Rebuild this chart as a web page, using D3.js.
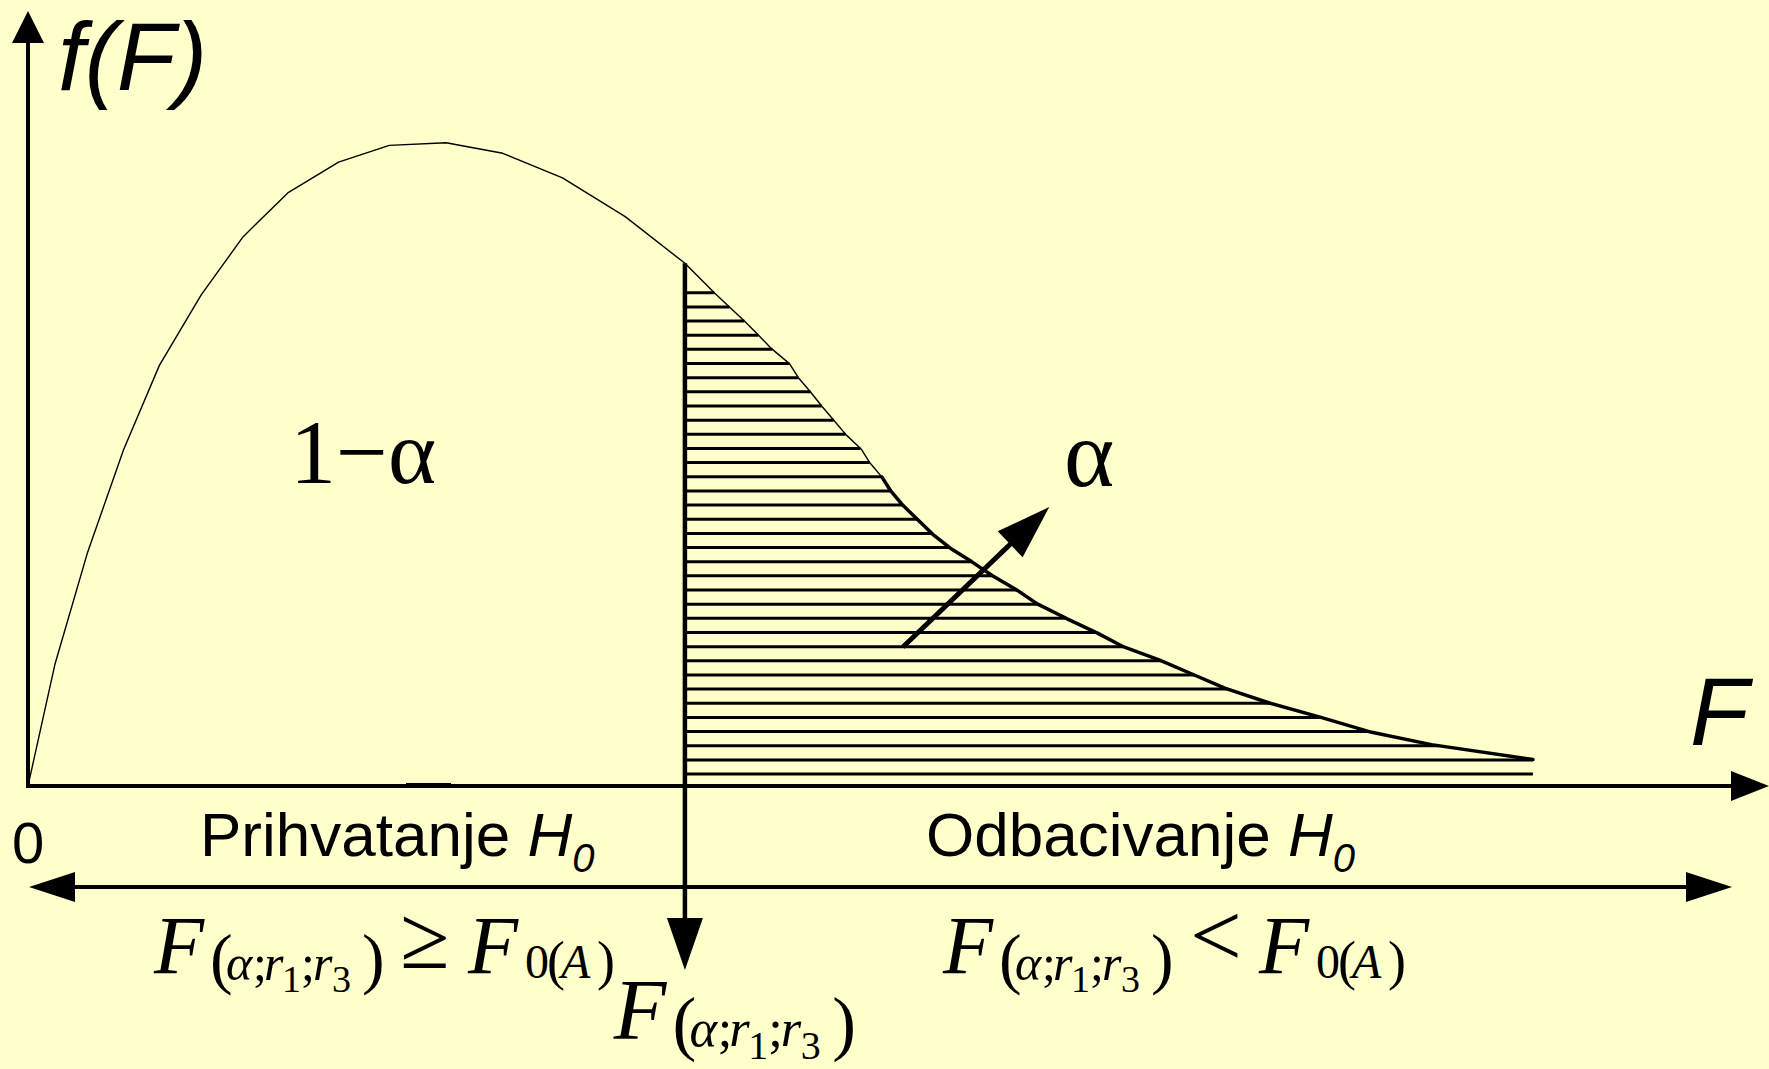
<!DOCTYPE html>
<html>
<head>
<meta charset="utf-8">
<script src="https://cdn.jsdelivr.net/npm/d3@7"></script>
<style>
  html, body { margin: 0; padding: 0; background: #FFFFCC; }
  svg { display: block; }
  .sans { font-family: "Liberation Sans", Arial, sans-serif; }
  .serif { font-family: "Liberation Serif", "Times New Roman", serif; }
</style>
</head>
<body>
<script>
// F-distribution density curve (F value, density)
const fValues = [0, 0.09, 0.20, 0.32, 0.44, 0.58, 0.72, 0.87, 1.04, 1.21,
  1.40, 1.59, 1.79, 2.00, 2.20, 2.30, 2.35, 2.40, 2.45, 2.49,
  2.55, 2.58, 2.62, 2.66, 2.70, 2.74, 2.79, 2.82, 2.86, 2.89,
  2.93, 3.03, 3.09, 3.16, 3.23, 3.31, 3.38, 3.48, 3.58, 3.67,
  3.79, 3.90, 4.01, 4.16, 4.33, 4.50, 4.70, 5.04];
const density = [0, 0.138, 0.266, 0.382, 0.478, 0.558, 0.624, 0.674, 0.709, 0.728,
  0.731, 0.719, 0.691, 0.647, 0.594, 0.560, 0.544, 0.528, 0.511, 0.497,
  0.480, 0.464, 0.448, 0.431, 0.415, 0.399, 0.383, 0.367, 0.351, 0.335,
  0.319, 0.286, 0.270, 0.255, 0.239, 0.223, 0.207, 0.190, 0.174, 0.158,
  0.143, 0.127, 0.111, 0.094, 0.078, 0.061, 0.047, 0.030];

// critical value F(α; r1; r3) and the value where the tail outline thickens
const criticalF = 2.20;
const thickFrom = 2.86;

// arrow pointing at the rejection area α (data coordinates)
const alphaArrowFrom = [2.93, 0.158];
const alphaArrowTo = [3.42, 0.317];

// texts
const yTitle = "f(F)";
const xTitle = "F";
const originLabel = "0";
const acceptLabel = "Prihvatanje ";
const rejectLabel = "Odbacivanje ";
const areaAccept = "1\u2212\u03B1";
const areaReject = "\u03B1";

const W = 1769, H = 1069;
const svg = d3.select("body").append("svg").attr("width", W).attr("height", H);
svg.append("rect").attr("width", W).attr("height", H).attr("fill", "#FFFFCC");

const x = d3.scaleLinear().domain([0, 5]).range([28, 1521]);
const y = d3.scaleLinear().domain([0, 0.8]).range([786, 82]);

const pts = fValues.map((f, i) => [f, density[i]]);
const line = d3.line().x(d => x(d[0])).y(d => y(d[1])).curve(d3.curveLinear);

// filled arrowhead with tip at (tx,ty) pointing along unit vector (ux,uy)
function head(tx, ty, ux, uy, len, hw) {
  const bx = tx - ux * len, by = ty - uy * len;
  const px = -uy, py = ux;
  return `M${tx},${ty}L${bx + px * hw},${by + py * hw}L${bx - px * hw},${by - py * hw}Z`;
}

// ---- hatching of the rejection region ----
const tail = pts.filter(p => p[0] >= criticalF);
function tailF(level) {
  for (let i = 0; i < tail.length - 1; i++) {
    const a = tail[i], b = tail[i + 1];
    if (a[1] >= level && b[1] <= level) {
      return a[0] + (b[0] - a[0]) * (a[1] - level) / (a[1] - b[1]);
    }
  }
  return tail[tail.length - 1][0];
}
const hatchCount = 35, hatchBase = 0.0136, hatchStep = 0.016086;
const levels = d3.range(hatchCount).map(i => hatchBase + i * hatchStep);
svg.append("g").selectAll("line").data(levels).join("line")
  .attr("x1", x(criticalF)).attr("x2", d => x(tailF(d)))
  .attr("y1", d => y(d)).attr("y2", d => y(d))
  .attr("stroke", "#000").attr("stroke-width", 3);

// ---- density curve ----
svg.append("path").attr("d", line(pts.filter(p => p[0] <= thickFrom)))
  .attr("fill", "none").attr("stroke", "#000").attr("stroke-width", 1.4)
  .attr("stroke-linejoin", "round");
svg.append("path").attr("d", line(pts.filter(p => p[0] >= thickFrom)))
  .attr("fill", "none").attr("stroke", "#000").attr("stroke-width", 3.5)
  .attr("stroke-linejoin", "round").attr("stroke-linecap", "round");

// ---- axes ----
const x0 = x(0), y0 = y(0);
svg.append("line").attr("x1", x0).attr("x2", x0).attr("y1", y0 + 2).attr("y2", 40)
  .attr("stroke", "#000").attr("stroke-width", 4);
svg.append("path").attr("d", head(x0, 11, 0, -1, 32, 16)).attr("fill", "#000");
svg.append("line").attr("x1", x0 - 2).attr("x2", W - 34).attr("y1", y0).attr("y2", y0)
  .attr("stroke", "#000").attr("stroke-width", 4);
svg.append("line").attr("x1", 406).attr("x2", 451).attr("y1", y0 - 1.5).attr("y2", y0 - 1.5)
  .attr("stroke", "#000").attr("stroke-width", 3);
svg.append("path").attr("d", head(W, y0, 1, 0, 38, 15)).attr("fill", "#000");

// ---- critical value line with downward arrow ----
const xc = x(criticalF);
svg.append("line").attr("x1", xc).attr("x2", xc)
  .attr("y1", y(density[fValues.indexOf(criticalF)])).attr("y2", 930)
  .attr("stroke", "#000").attr("stroke-width", 4.5);
svg.append("path").attr("d", head(xc, 970, 0, 1, 52, 18)).attr("fill", "#000");

// ---- double arrow under the axis ----
const yd = 887;
svg.append("line").attr("x1", 60).attr("x2", 1700).attr("y1", yd).attr("y2", yd)
  .attr("stroke", "#000").attr("stroke-width", 4);
svg.append("path").attr("d", head(29, yd, -1, 0, 46, 15)).attr("fill", "#000");
svg.append("path").attr("d", head(1732, yd, 1, 0, 46, 15)).attr("fill", "#000");

// ---- α arrow ----
{
  const ax = x(alphaArrowFrom[0]), ay = y(alphaArrowFrom[1]);
  const bx = x(alphaArrowTo[0]), by = y(alphaArrowTo[1]);
  const L = Math.hypot(bx - ax, by - ay), ux = (bx - ax) / L, uy = (by - ay) / L;
  svg.append("line").attr("x1", ax).attr("y1", ay)
    .attr("x2", bx - ux * 45).attr("y2", by - uy * 45)
    .attr("stroke", "#000").attr("stroke-width", 5);
  svg.append("path").attr("d", head(bx, by, ux, uy, 54, 18)).attr("fill", "#000");
}

// ---- labels ----
svg.append("text").attr("class", "sans").attr("x", 58).attr("y", 90)
  .attr("font-size", 96).attr("font-style", "italic").text(yTitle);
svg.append("text").attr("class", "sans").attr("x", 1690).attr("y", 745)
  .attr("font-size", 96).attr("font-style", "italic").text(xTitle);
svg.append("text").attr("class", "sans").attr("x", 12).attr("y", 863)
  .attr("font-size", 58).text(originLabel);

function hypLabel(tx, text) {
  const t = svg.append("text").attr("class", "sans").attr("x", tx).attr("y", 856)
    .attr("font-size", 62).attr("xml:space", "preserve");
  t.append("tspan").text(text);
  t.append("tspan").attr("font-style", "italic").text("H");
  t.append("tspan").attr("font-style", "italic").attr("font-size", 40)
    .attr("dx", 0).attr("dy", 16).text("0");
}
hypLabel(200, acceptLabel);
hypLabel(926, rejectLabel);

svg.append("text").attr("class", "serif").attr("x", 290).attr("y", 483)
  .attr("font-size", 92).text(areaAccept);
svg.append("text").attr("class", "serif").attr("x", 1064).attr("y", 486)
  .attr("font-size", 96).text(areaReject);

// ---- formulas F(α;r1;r3) [rel] F0(A) ----
const critPieces = [
  { t: "F", dx: -4, dy: 0, s: 82, it: true },
  { t: "(", dx: 52, dy: 8, s: 68 },
  { t: "\u03B1", dx: 68, dy: 7, s: 50, it: true },
  { t: ";", dx: 95, dy: 7, s: 50 },
  { t: "r", dx: 106, dy: 7, s: 50, it: true },
  { t: "1", dx: 124, dy: 19, s: 38 },
  { t: ";", dx: 143, dy: 7, s: 50 },
  { t: "r", dx: 155, dy: 7, s: 50, it: true },
  { t: "3", dx: 174, dy: 19, s: 38 },
  { t: ")", dx: 204, dy: 8, s: 68 }
];
const obsPieces = [
  { t: "F", dx: 302, dy: 0, s: 82, it: true },
  { t: "0", dx: 359, dy: 5, s: 48 },
  { t: "(", dx: 381, dy: 6, s: 54 },
  { t: "A", dx: 395, dy: 5, s: 48, it: true },
  { t: ")", dx: 431, dy: 6, s: 54 }
];
function formula(ox, oy, pieces, k) {
  const g = svg.append("g").attr("class", "serif");
  pieces.forEach(p => {
    g.append("text").attr("x", ox + p.dx * k).attr("y", oy + p.dy * k)
      .attr("font-size", p.s * k).attr("font-style", p.it ? "italic" : "normal")
      .text(p.t);
  });
  return g;
}
formula(158, 973, critPieces, 1);
svg.append("text").attr("class", "serif").attr("x", 400).attr("y", 968)
  .attr("font-size", 90).text("\u2265");
formula(158 + 8, 973, obsPieces, 1);

formula(947, 973, critPieces, 1);
svg.append("text").attr("class", "serif").attr("x", 1190).attr("y", 966)
  .attr("font-size", 92).text("<");
formula(947 + 10, 973, obsPieces, 1);

formula(618, 1039, critPieces, 1.05);
</script>
</body>
</html>
